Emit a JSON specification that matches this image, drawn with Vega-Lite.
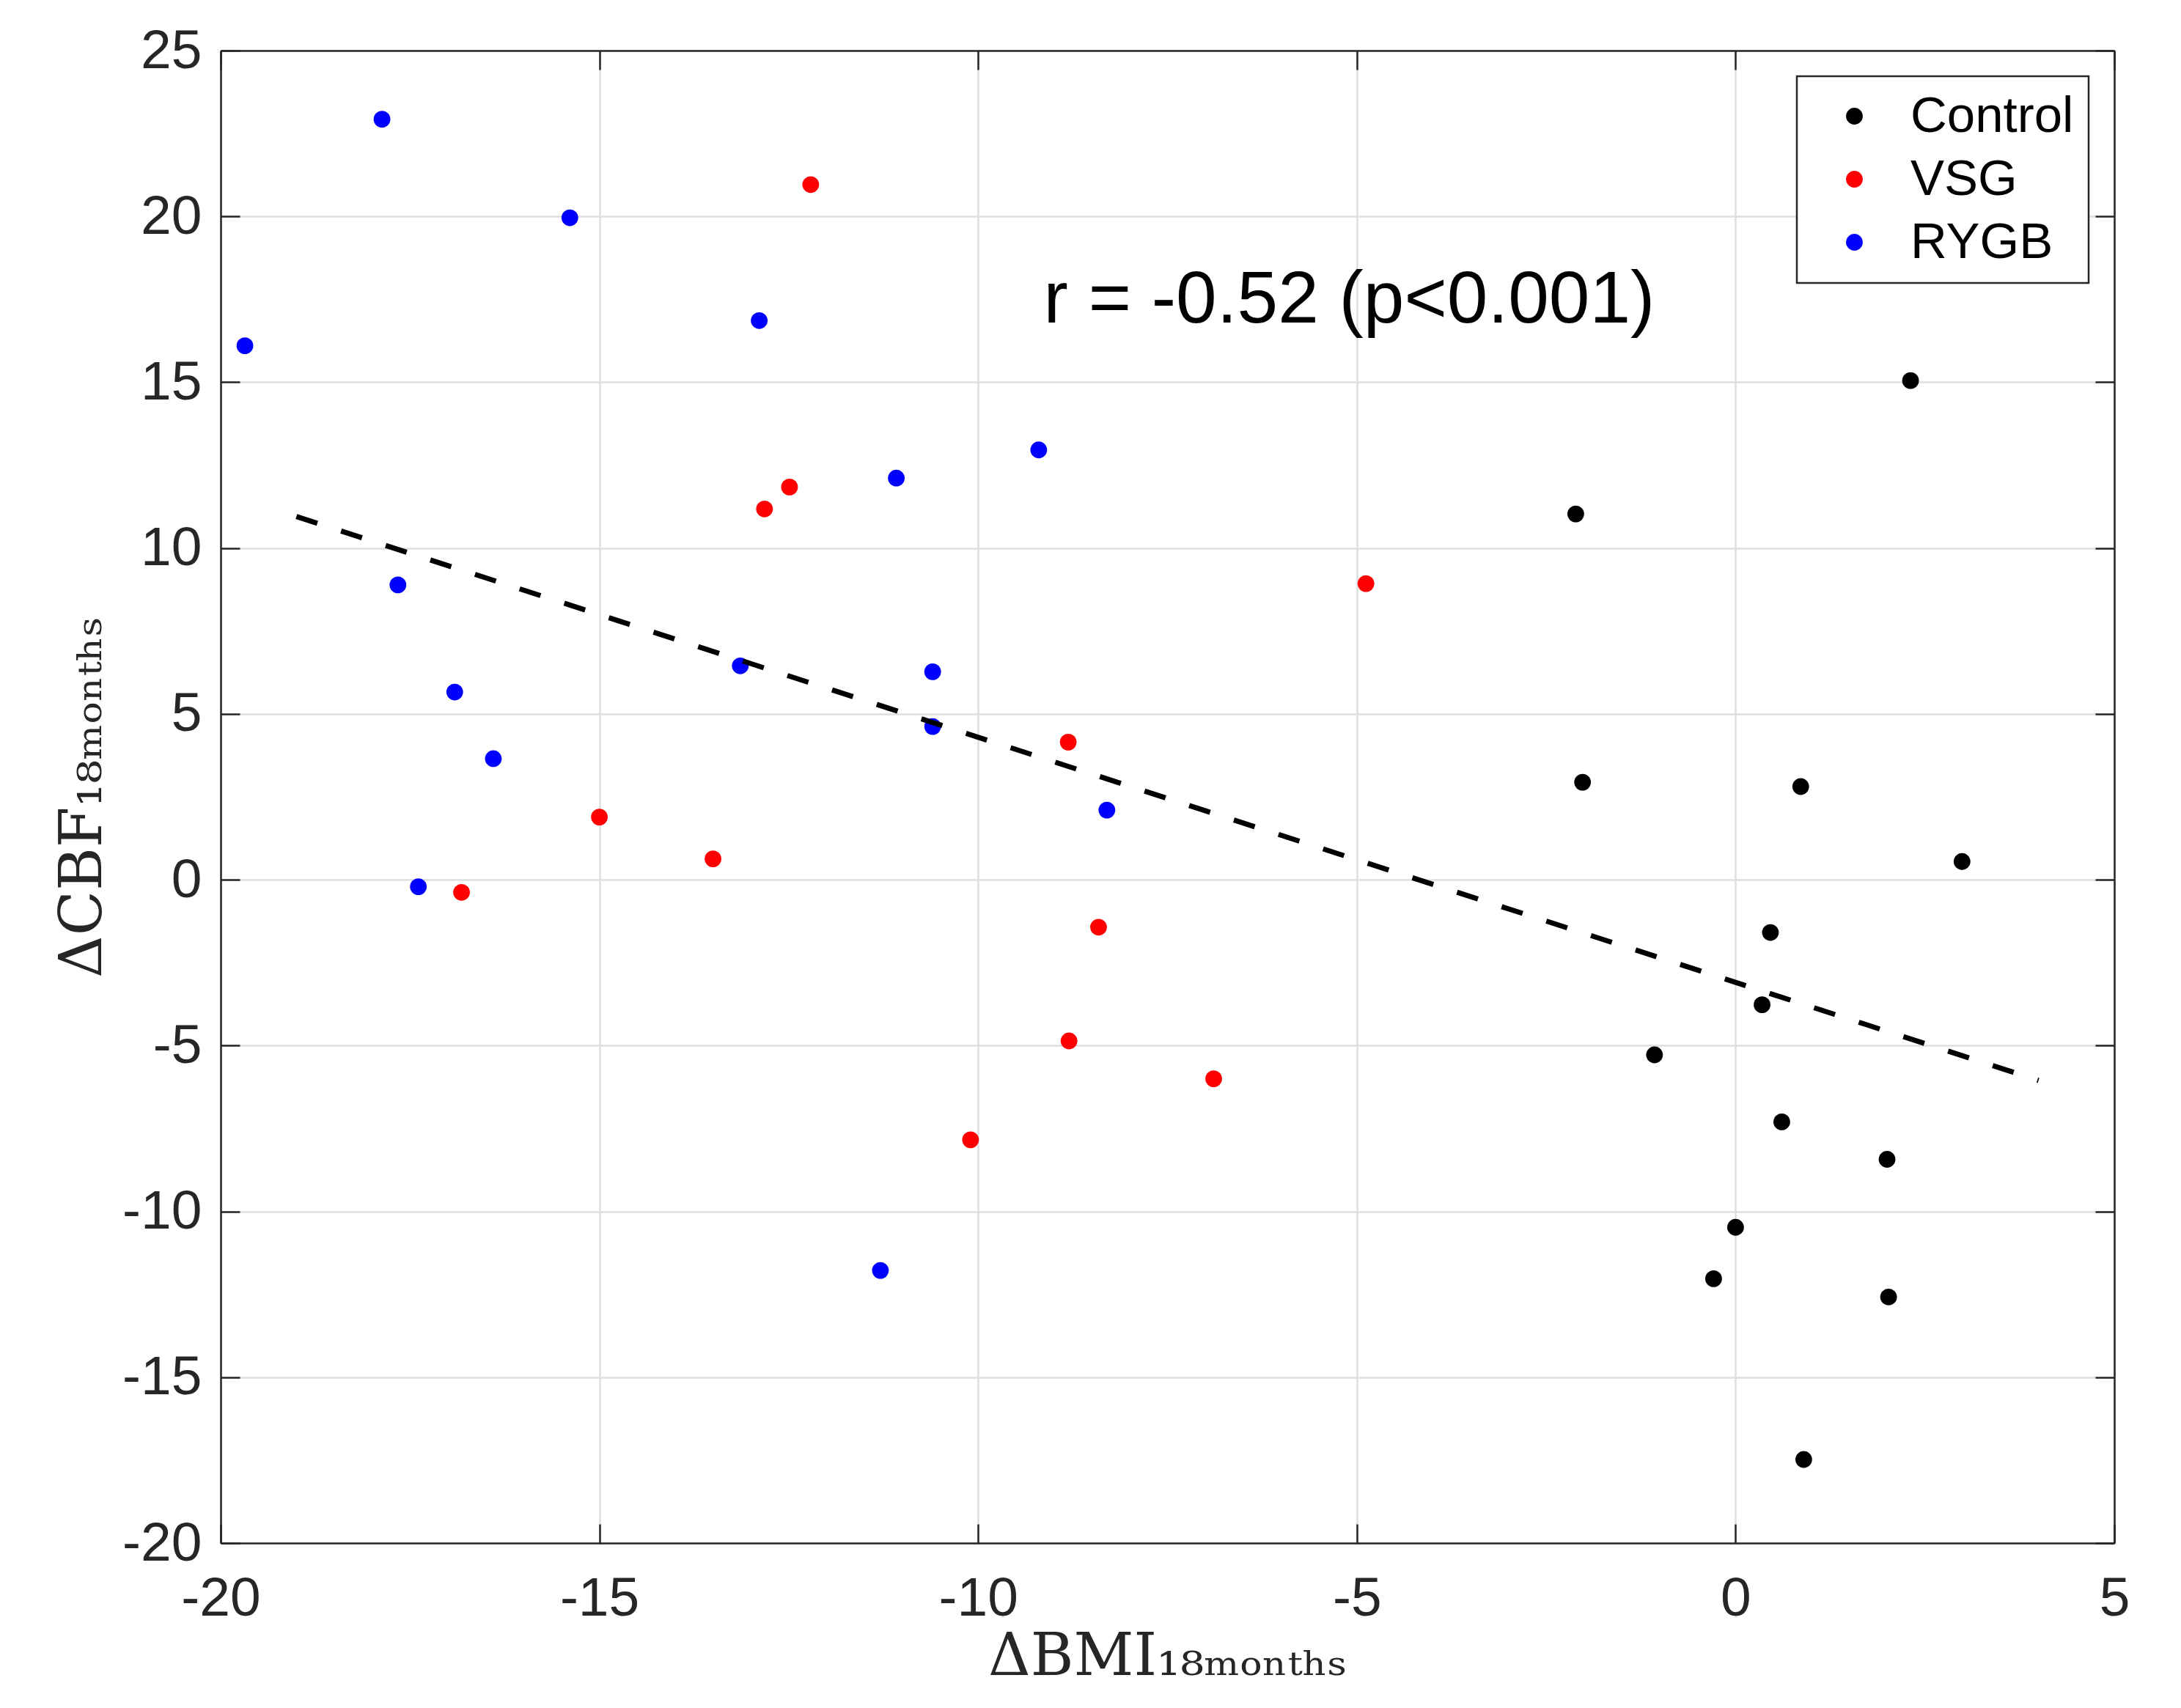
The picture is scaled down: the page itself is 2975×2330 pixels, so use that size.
{
  "$schema": "https://vega.github.io/schema/vega-lite/v6.json",
  "autosize": {"type": "none"},
  "padding": {"left": 301, "top": 69, "right": 91, "bottom": 225},
  "width": 2583,
  "height": 2036,
  "background": "white",
  "datasets": {
    "points": [
      {"group": "RYGB", "bmi": -17.87, "cbf": 22.93},
      {"group": "RYGB", "bmi": -15.39, "cbf": 19.96},
      {"group": "RYGB", "bmi": -12.89, "cbf": 16.86},
      {"group": "RYGB", "bmi": -19.68, "cbf": 16.10},
      {"group": "RYGB", "bmi": -9.20, "cbf": 12.96},
      {"group": "RYGB", "bmi": -11.08, "cbf": 12.11},
      {"group": "RYGB", "bmi": -17.66, "cbf": 8.89},
      {"group": "RYGB", "bmi": -13.14, "cbf": 6.45},
      {"group": "RYGB", "bmi": -10.60, "cbf": 6.27},
      {"group": "RYGB", "bmi": -10.60, "cbf": 4.62},
      {"group": "RYGB", "bmi": -16.91, "cbf": 5.66},
      {"group": "RYGB", "bmi": -16.40, "cbf": 3.65},
      {"group": "RYGB", "bmi": -8.30, "cbf": 2.10},
      {"group": "RYGB", "bmi": -17.39, "cbf": -0.21},
      {"group": "RYGB", "bmi": -11.29, "cbf": -11.78},
      {"group": "VSG", "bmi": -12.21, "cbf": 20.96},
      {"group": "VSG", "bmi": -12.49, "cbf": 11.84},
      {"group": "VSG", "bmi": -12.82, "cbf": 11.18},
      {"group": "VSG", "bmi": -4.88, "cbf": 8.93},
      {"group": "VSG", "bmi": -8.81, "cbf": 4.15},
      {"group": "VSG", "bmi": -15.00, "cbf": 1.89},
      {"group": "VSG", "bmi": -13.50, "cbf": 0.63},
      {"group": "VSG", "bmi": -16.82, "cbf": -0.38},
      {"group": "VSG", "bmi": -8.41, "cbf": -1.43},
      {"group": "VSG", "bmi": -8.80, "cbf": -4.86},
      {"group": "VSG", "bmi": -6.89, "cbf": -6.00},
      {"group": "VSG", "bmi": -10.10, "cbf": -7.84},
      {"group": "Control", "bmi": 2.31, "cbf": 15.05},
      {"group": "Control", "bmi": -2.11, "cbf": 11.03},
      {"group": "Control", "bmi": -2.02, "cbf": 2.94},
      {"group": "Control", "bmi": 0.86, "cbf": 2.81},
      {"group": "Control", "bmi": 2.99, "cbf": 0.55},
      {"group": "Control", "bmi": 0.46, "cbf": -1.59},
      {"group": "Control", "bmi": 0.35, "cbf": -3.77},
      {"group": "Control", "bmi": -1.07, "cbf": -5.28},
      {"group": "Control", "bmi": 0.61, "cbf": -7.30},
      {"group": "Control", "bmi": 2.00, "cbf": -8.43},
      {"group": "Control", "bmi": 0.00, "cbf": -10.48},
      {"group": "Control", "bmi": -0.29, "cbf": -12.03},
      {"group": "Control", "bmi": 2.02, "cbf": -12.58},
      {"group": "Control", "bmi": 0.90, "cbf": -17.48}
    ],
    "fit": [
      {"x1": -19, "y1": 10.95, "x2": 4, "y2": -6.05}
    ],
    "note": [
      {"bmi": -5.1, "cbf": 16.8, "label": "r = -0.52 (p<0.001)"}
    ]
  },
  "layer": [
    {
      "data": {"name": "points"},
      "mark": {"type": "circle", "size": 520, "opacity": 1},
      "encoding": {
        "x": {
          "field": "bmi",
          "type": "quantitative",
          "scale": {"domain": [-20, 5], "nice": false, "zero": false},
          "axis": {
            "orient": "bottom",
            "values": [-20, -15, -10, -5, 0, 5],
            "labelExpr": "replace(datum.label, '−', '-')",
            "grid": true,
            "labelPadding": 65,
            "title": "ΔBMI₁₈ₘₒₙₜₕₛ",
            "titlePadding": 3
          }
        },
        "y": {
          "field": "cbf",
          "type": "quantitative",
          "scale": {"domain": [-20, 25], "nice": false, "zero": false},
          "axis": {
            "orient": "left",
            "values": [-20, -15, -10, -5, 0, 5, 10, 15, 20, 25],
            "labelExpr": "replace(datum.label, '−', '-')",
            "grid": true,
            "labelPadding": 52,
            "title": "ΔCBF₁₈ₘₒₙₜₕₛ",
            "titlePadding": 12
          }
        },
        "color": {
          "field": "group",
          "type": "nominal",
          "scale": {
            "domain": ["Control", "VSG", "RYGB"],
            "range": ["#000000", "#ff0000", "#0000ff"]
          },
          "legend": {"title": null}
        }
      }
    },
    {
      "data": {"name": "fit"},
      "mark": {"type": "rule", "color": "#000000", "strokeWidth": 7, "strokeDash": [30, 34]},
      "encoding": {
        "x": {"field": "x1", "type": "quantitative", "scale": {"domain": [-20, 5], "nice": false, "zero": false}, "axis": null},
        "y": {"field": "y1", "type": "quantitative", "scale": {"domain": [-20, 25], "nice": false, "zero": false}, "axis": null},
        "x2": {"field": "x2"},
        "y2": {"field": "y2"}
      }
    },
    {
      "data": {"name": "note"},
      "mark": {"type": "text", "font": "Liberation Sans", "fontSize": 100, "color": "#000000", "align": "center", "baseline": "alphabetic"},
      "encoding": {
        "x": {
          "field": "bmi",
          "type": "quantitative",
          "scale": {"domain": [-20, 5], "nice": false, "zero": false},
          "axis": {"orient": "top", "values": [-20, -15, -10, -5, 0, 5], "labels": false, "grid": false, "title": null}
        },
        "y": {
          "field": "cbf",
          "type": "quantitative",
          "scale": {"domain": [-20, 25], "nice": false, "zero": false},
          "axis": {"orient": "right", "values": [-20, -15, -10, -5, 0, 5, 10, 15, 20, 25], "labels": false, "grid": false, "title": null}
        },
        "text": {"field": "label"}
      }
    }
  ],
  "resolve": {"axis": {"x": "independent", "y": "independent"}},
  "config": {
    "view": {"stroke": null},
    "axis": {
      "domainColor": "#262626",
      "domainWidth": 2.5,
      "tickColor": "#262626",
      "tickWidth": 2.5,
      "tickSize": -26,
      "gridColor": "#dedede",
      "gridWidth": 2.5,
      "labelFont": "Liberation Sans",
      "labelFontSize": 75,
      "labelColor": "#262626",
      "labelFlush": false,
      "labelOverlap": false,
      "titleFont": "DejaVu Serif, DejaVu Sans",
      "titleFontSize": 80,
      "titleFontWeight": "normal",
      "titleColor": "#262626"
    },
    "legend": {
      "orient": "top-right",
      "offset": 35,
      "strokeColor": "#262626",
      "strokeWidth": 2.5,
      "fillColor": "#ffffff",
      "padding": 20,
      "symbolType": "circle",
      "symbolSize": 520,
      "symbolStrokeWidth": 0,
      "symbolOpacity": 1,
      "symbolOffset": 24,
      "labelOffset": 42,
      "labelLimit": 0,
      "labelFont": "Liberation Sans",
      "labelFontSize": 69,
      "labelColor": "#000000",
      "rowPadding": 16
    }
  }
}
